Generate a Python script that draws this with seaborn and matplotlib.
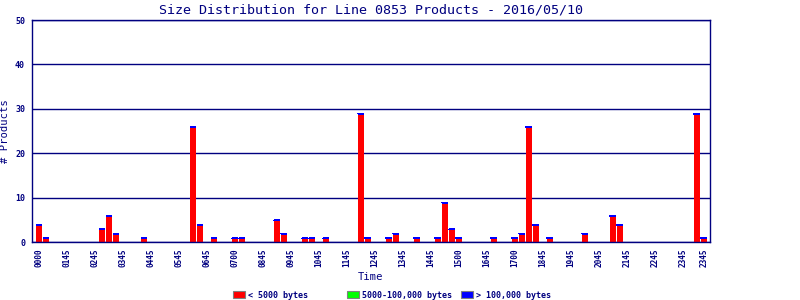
import matplotlib
matplotlib.use("Agg")
import matplotlib.pyplot as plt
import seaborn as sns
import pandas as pd
import numpy as np
from matplotlib.patches import Patch

# 15-minute slots over the day
slots = list(range(96))
# counts per slot: < 5000 bytes
small = [4, 1, 0, 0, 0, 0, 0, 0, 0, 3,
         6, 2, 0, 0, 0, 1, 0, 0, 0, 0,
         0, 0, 26, 4, 0, 1, 0, 0, 1, 1,
         0, 0, 0, 0, 5, 2, 0, 0, 1, 1,
         0, 1, 0, 0, 0, 0, 29, 1, 0, 0,
         1, 2, 0, 0, 1, 0, 0, 1, 9, 3,
         1, 0, 0, 0, 0, 1, 0, 0, 1, 2,
         26, 4, 0, 1, 0, 0, 0, 0, 2, 0,
         0, 0, 6, 4, 0, 0, 0, 0, 0, 0,
         0, 0, 0, 0, 29, 1]
# 5000-100,000 bytes
medium = [0] * 96
# > 100,000 bytes
large = [0] * 96

tick_slots = [0, 4, 8, 12, 16, 20, 24, 28, 32, 36, 40, 44, 48, 52, 56, 60,
              64, 68, 72, 76, 80, 84, 88, 92, 95]
tick_labels = ["0000", "0145", "0245", "0345", "0445", "0545", "0645", "0700",
               "0845", "0945", "1045", "1145", "1245", "1345", "1445", "1500",
               "1645", "1700", "1845", "1945", "2045", "2145", "2245", "2345",
               "2345"]
y_ticks = [0, 10, 20, 30, 40, 50]
series_names = ["< 5000 bytes", "5000-100,000 bytes", "> 100,000 bytes"]
series_colors = ["#FF0000", "#00FF00", "#0000FF"]

NAVY = "#000080"
MONO = ["DejaVu Sans Mono"]

sns.set_style("white")
plt.rcParams["font.family"] = MONO

df = pd.DataFrame({"slot": slots, "small": small, "medium": medium, "large": large})

fig = plt.figure(figsize=(8, 3), dpi=100)
ax_h_px = 222
ax = fig.add_axes([32 / 800, 58 / 300, 678 / 800, ax_h_px / 300])
y_max = 50

bw = 6 / 7
sns.barplot(data=df, x="slot", y="small", native_scale=True, color=series_colors[0],
            saturation=1, width=bw, linewidth=0, errorbar=None, ax=ax, zorder=3)
base1 = np.array(small)
ax.bar(df["slot"], df["medium"], bottom=base1, width=bw, color=series_colors[1],
       linewidth=0, zorder=3)
base2 = base1 + np.array(medium)
ax.bar(df["slot"], df["large"], bottom=base2, width=bw, color=series_colors[2],
       linewidth=0, zorder=4)
# the > 100,000 series also shows as a one-pixel cap on top of each stack
top = base2 + np.array(large)
has = top > 0
sl = np.array(slots)[has]
px = y_max / ax_h_px  # one pixel in data units (style only)
caps = ax.bar(sl, px * 1.05, bottom=top[has] - px * 1.05, width=bw,
              color=series_colors[2], linewidth=0, zorder=4)
for r in caps:
    r.set_snap(False)
    r.set_antialiased(False)

ax.set_xlim(-1, 95.86)
ax.set_ylim(0, y_max)
ax.set_yticks(y_ticks)
ax.set_yticklabels([str(v) for v in y_ticks])
ax.set_xticks(tick_slots)
ax.set_xticklabels(tick_labels, rotation=90)
ax.yaxis.grid(True, color=NAVY, linewidth=1.0, zorder=1)
ax.xaxis.grid(False)
ax.set_axisbelow(True)
for s in ax.spines.values():
    s.set_color(NAVY)
    s.set_linewidth(1.0)
    s.set_visible(True)
    s.set_zorder(5)

ax.tick_params(axis="both", length=0, colors=NAVY)
ax.tick_params(axis="x", pad=5, labelsize=5.6)
ax.tick_params(axis="y", pad=5, labelsize=6)
for lab in ax.get_xticklabels() + ax.get_yticklabels():
    lab.set_fontweight("bold")

ax.set_title("Size Distribution for Line 0853 Products - 2016/05/10", color=NAVY,
             fontsize=9.6, pad=5)
ax.set_xlabel("Time", color=NAVY, fontsize=7.6, labelpad=3)
ax.set_ylabel("# Products", color=NAVY, fontsize=7.6, labelpad=4)

x_positions = [233, 347, 461]
for name, col, xp in zip(series_names, series_colors, x_positions):
    h = Patch(facecolor=col, edgecolor="#808080", linewidth=0.8)
    leg = fig.legend(handles=[h], labels=[name], loc="center left",
                     bbox_to_anchor=(xp / 800, 5 / 300), frameon=False,
                     borderpad=0, borderaxespad=0, handlelength=1.45,
                     handleheight=0.95, handletextpad=0.4,
                     prop={"family": MONO, "weight": "bold", "size": 6})
    for t in leg.get_texts():
        t.set_color(NAVY)

fig.savefig("out.png", dpi=100)
